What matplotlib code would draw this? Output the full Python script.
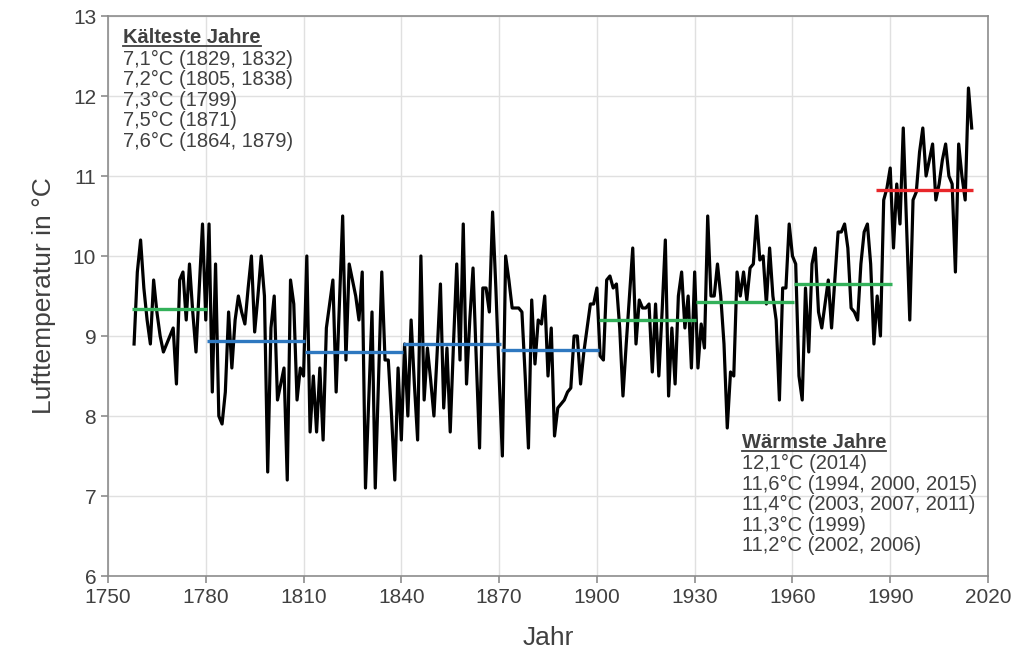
import numpy as np
import matplotlib
matplotlib.use("Agg")
import matplotlib.pyplot as plt

plt.rcParams['font.family'] = ['Liberation Sans', 'DejaVu Sans']

# annual mean air temperature, 1758-2015
jahre = np.arange(1758, 2016)
temp = [
    8.9, 9.8, 10.2, 9.6, 9.2, 8.9, 9.7, 9.3, 9.0, 8.8, 8.9, 9.0, 9.1, 8.4, 9.7, 9.8, 9.2, 9.9, 9.3, 8.8, 9.6, 10.4, 9.2,
    10.4, 8.3, 9.9, 8.0, 7.9, 8.3, 9.3, 8.6, 9.2, 9.5,
    9.3, 9.15, 9.6, 10.0, 9.05, 9.5, 10.0, 9.5, 7.3, 9.1,
    9.5, 8.2, 8.4, 8.6, 7.2, 9.7, 9.4, 8.2, 8.6, 8.5,
    10.0, 7.8, 8.5, 7.8, 8.6, 7.7, 9.1, 9.4, 9.7, 8.3,
    9.4, 10.5, 8.7, 9.9, 9.7, 9.5, 9.2, 9.8, 7.1, 8.2,
    9.3, 7.1, 8.45, 9.8, 8.7, 8.7, 8.0, 7.2, 8.6, 7.7,
    8.9, 8.0, 9.2, 8.4, 7.7, 10.0, 8.2, 8.85, 8.45, 8.0,
    8.8, 9.65, 8.1, 8.85, 7.8, 8.9, 9.9, 8.7, 10.4, 8.4,
    9.2, 9.85, 8.7, 7.6, 9.6, 9.6, 9.3, 10.55, 9.6, 8.5,
    7.5, 10.0, 9.7, 9.35, 9.35, 9.35, 9.3, 8.5, 7.6, 9.45,
    8.65, 9.2, 9.15, 9.5, 8.5, 9.1, 7.75, 8.1, 8.15, 8.2,
    8.3, 8.35, 9.0, 9.0, 8.4, 8.8, 9.1, 9.4, 9.4, 9.6,
    8.75, 8.7, 9.7, 9.75, 9.6, 9.65, 9.1, 8.25, 8.9, 9.5,
    10.1, 8.9, 9.45, 9.35, 9.35, 9.4, 8.55, 9.4, 8.5, 9.3,
    10.2, 8.25, 9.1, 8.4, 9.5, 9.8, 9.1, 9.5, 8.6, 9.8,
    8.6, 9.15, 8.85, 10.5, 9.5, 9.5, 9.9, 9.5, 8.9, 7.85,
    8.55, 8.5, 9.8, 9.5, 9.8, 9.45, 9.85, 9.9, 10.5, 9.95,
    10.0, 9.4, 10.1, 9.5, 9.2, 8.2, 9.6, 9.6, 10.4, 10.0,
    9.9, 8.5, 8.2, 9.6, 8.8, 9.9, 10.1, 9.3, 9.1, 9.4,
    9.7, 9.1, 9.7, 10.3, 10.3, 10.4, 10.1, 9.35, 9.3, 9.2,
    9.9, 10.3, 10.4, 9.9, 8.9, 9.5, 9.0, 10.7, 10.85, 11.1,
    10.1, 10.9, 10.4, 11.6, 10.4, 9.2, 10.7, 10.8, 11.3, 11.6,
    11.0, 11.2, 11.4, 10.7, 10.9, 11.2, 11.4, 11.0, 10.9, 9.8,
    11.4, 11.0, 10.7, 12.1, 11.6,
]

# 30-year means (period start, period end, mean)
per_start = [1758, 1781, 1811, 1841, 1871, 1901, 1931, 1961, 1986]
per_ende = [1780, 1810, 1840, 1870, 1900, 1930, 1960, 1990, 2015]
per_mittel = [9.34, 8.94, 8.80, 8.90, 8.83, 9.20, 9.43, 9.65, 10.82]
per_farbe = ['#33b15a', '#2e78c0', '#2e78c0', '#2e78c0', '#2e78c0',
             '#33b15a', '#33b15a', '#33b15a', '#e8262a']

kalt_titel = 'Kälteste Jahre'
kalt_zeilen = ['7,1°C (1829, 1832)', '7,2°C (1805, 1838)', '7,3°C (1799)',
               '7,5°C (1871)', '7,6°C (1864, 1879)']
warm_titel = 'Wärmste Jahre'
warm_zeilen = ['12,1°C (2014)', '11,6°C (1994, 2000, 2015)', '11,4°C (2003, 2007, 2011)',
               '11,3°C (1999)', '11,2°C (2002, 2006)']

txt = '#404040'

fig = plt.figure(figsize=(10.17, 6.57), dpi=100)
ax = fig.add_axes([108 / 1017, 81 / 657, 880 / 1017, 560 / 657])

ax.plot(jahre, temp, color='black', lw=2.3, zorder=3)
for s, e, m, c in zip(per_start, per_ende, per_mittel, per_farbe):
    ax.hlines(m, s - 0.5, e + 0.5, colors=c, lw=2.4, zorder=4)

ax.set_xlim(1750, 2020)
ax.set_ylim(6, 13)
ax.set_xticks(np.arange(1750, 2021, 30))
ax.set_yticks(np.arange(6, 14, 1))
ax.grid(True, color='#e0e0e0', lw=1)
ax.set_axisbelow(True)
for sp in ax.spines.values():
    sp.set_color('#8c8c8c')
    sp.set_linewidth(1.2)
ax.tick_params(labelsize=15, colors='#8c8c8c', labelcolor=txt, length=5, width=1.2)

ax.set_xlabel('Jahr', fontsize=19, color=txt, labelpad=14)
ax.set_ylabel('Lufttemperatur in °C', fontsize=19, color=txt, labelpad=12)

fs = 14.5
t1 = ax.text(0.017, 0.978, kalt_titel, transform=ax.transAxes, fontsize=fs,
             fontweight='bold', color=txt, va='top', ha='left')
ax.text(0.017, 0.940, '\n'.join(kalt_zeilen), transform=ax.transAxes, fontsize=fs,
        color=txt, va='top', ha='left', linespacing=1.1)
t2 = ax.text(0.72, 0.256, warm_titel, transform=ax.transAxes, fontsize=fs,
             fontweight='bold', color=txt, va='top', ha='left')
ax.text(0.72, 0.218, '\n'.join(warm_zeilen), transform=ax.transAxes, fontsize=fs,
        color=txt, va='top', ha='left', linespacing=1.1)

# underline the two headings
fig.canvas.draw()
r = fig.canvas.get_renderer()
for t in (t1, t2):
    bb = t.get_window_extent(r).transformed(ax.transAxes.inverted())
    ax.plot([bb.x0, bb.x1], [bb.y0 + 0.002, bb.y0 + 0.002], transform=ax.transAxes,
            color=txt, lw=1.3, zorder=5)

fig.savefig('out.png', dpi=100)
